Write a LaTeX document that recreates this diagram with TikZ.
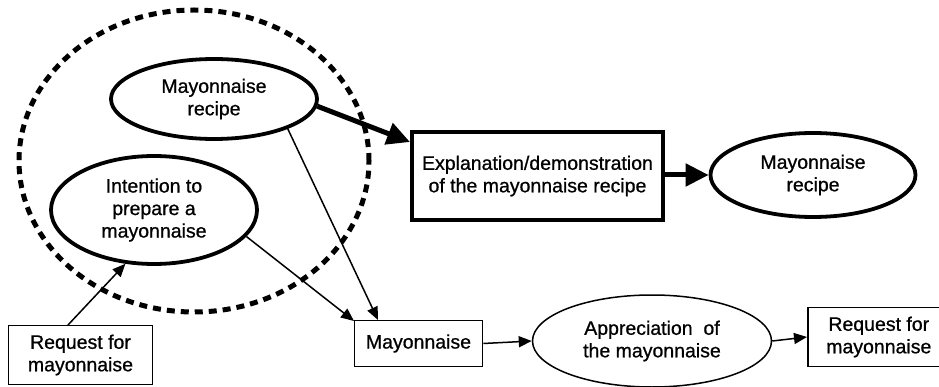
\documentclass[tikz,border=0pt]{standalone}
\usepackage{fontspec}
\setmainfont{Liberation Sans}[FakeBold=0.8]
\usetikzlibrary{shapes.geometric,arrows.meta}
\begin{document}
\begin{tikzpicture}[x=1pt,y=-1pt,
  txt/.style={align=center,inner sep=0pt,font=\fontsize{19.5}{22.5}\selectfont},
  thickell/.style={txt,ellipse,draw,line width=3.8pt},
  thinell/.style={txt,ellipse,draw,line width=1.5pt},
  thickbox/.style={txt,rectangle,draw,line width=4.5pt},
  thinbox/.style={txt,rectangle,draw,line width=1.6pt},
  thinarrow/.style={line width=1.5pt,-{Triangle[length=13pt,width=11pt]}},
  thickarrow/.style={line width=5pt,-{Triangle[length=23pt,width=22pt]}},
  groupring/.style={draw,line width=5pt,dash pattern=on 8pt off 6pt}
]
\useasboundingbox (0,0) rectangle (939,387);
\clip (0,0) rectangle (939,387);
% dashed group
\node[groupring,ellipse,minimum width=350pt,minimum height=302pt,inner sep=0pt] (grp) at (194,161) {};
% nodes
\node[thickell,minimum width=206pt,minimum height=80pt] (rec1) at (214,99) {Mayonnaise\\recipe};
\node[thickell,minimum width=206pt,minimum height=108pt] (intent) at (154,210) {Intention to\\prepare a\\mayonnaise};
\node[thinbox,minimum width=144pt,minimum height=59pt] (req1) at (80.5,355) {Request for\\mayonnaise};
\node[thickbox,minimum width=251pt,minimum height=88pt] (expl) at (537.5,176) {Explanation/demonstration\\of the mayonnaise recipe};
\node[thickell,minimum width=205pt,minimum height=84pt] (rec2) at (813,175) {Mayonnaise\\recipe};
\node[thinbox,minimum width=128pt,minimum height=46pt] (mayo) at (418.5,343.5) {Mayonnaise};
\node[thinell,minimum width=239pt,minimum height=92pt] (appr) at (652,341) {Appreciation\ \ of\\the mayonnaise};
\node[thinbox,minimum width=142pt,minimum height=59pt,anchor=west] (req2) at (807,337) {Request for\\mayonnaise};
% connector endpoints
\coordinate (e1) at (410,142);
\coordinate (e2) at (378,320);
\coordinate (e3) at (354,321);
\coordinate (s4) at (68,325);
% connectors
\draw[thickarrow] (rec1.-4) -- (e1);
\draw[thickarrow] (expl.east |- rec2.west) -- (rec2.west);
\draw[thinarrow] (rec1.-22) -- (e2);
\draw[thinarrow] (intent.-16) -- (e3);
\draw[thinarrow] (s4) -- (intent.242);
\draw[thinarrow] (mayo.east) -- (appr.west);
\draw[thinarrow] (appr.east) -- (req2.west);
\end{tikzpicture}
\end{document}
